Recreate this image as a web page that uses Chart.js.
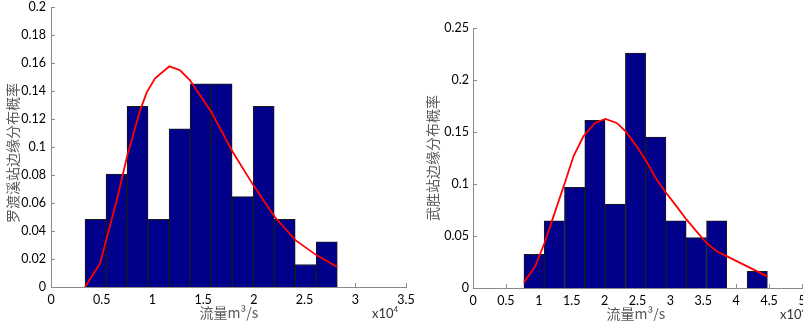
<!DOCTYPE html>
<html lang="zh">
<head>
<meta charset="UTF-8">
<title>边缘分布概率</title>
<script src="https://cdn.jsdelivr.net/npm/chart.js"></script>
<style>
    html, body { margin: 0; padding: 0; background: #fff; overflow: hidden; }
    body { width: 803px; height: 321px; position: relative; }
    canvas { position: absolute; top: 0; }
    #leftChart { left: 0; }
    #rightChart { left: 420px; }
    .ytitle, .xtitle, .scale-note {
        position: absolute;
        white-space: nowrap;
        color: #5a5a5a;
        font-family: "Noto Sans CJK SC", "Noto Sans", sans-serif;
        font-size: 14px;
        line-height: 1;
    }
    .ytitle { transform: translate(-50%, -50%) rotate(-90deg); }
    .xtitle { transform: translate(-50%, -50%); }
    .scale-note { font-family: Lato, sans-serif; font-size: 13px; color: #333; }
    .scale-note sup { font-size: 8px; vertical-align: 6px; }
</style>
</head>
<body>
<canvas id="leftChart" width="420" height="321"></canvas>
<canvas id="rightChart" width="383" height="321"></canvas>

<div class="ytitle" style="left:12px; top:153px;">罗渡溪站边缘分布概率</div>
<div class="xtitle" style="left:229px; top:312px;">流量m³/s</div>
<div class="scale-note" style="left:372px; top:305px;">x10<sup>4</sup></div>

<div class="ytitle" style="left:432px; top:158px;">武胜站边缘分布概率</div>
<div class="xtitle" style="left:636px; top:313px;">流量m³/s</div>
<div class="scale-note" style="left:780px; top:306px;">x10<sup>4</sup></div>

<script>
// flow values in units of 10^4 m3/s
// 罗渡溪站 histogram (bin centres) and frequencies
const luoBinCenters = [0.439, 0.646, 0.853, 1.061, 1.268, 1.475, 1.682, 1.890, 2.097, 2.304, 2.512, 2.719];
const luoFreq = [0.0484, 0.0806, 0.1290, 0.0484, 0.1129, 0.1452, 0.1452, 0.0645, 0.1290, 0.0484, 0.0161, 0.0323];
// fitted marginal distribution curve
const luoCurveX = [0.335, 0.483, 0.648, 0.756, 0.878, 0.944, 1.026, 1.167, 1.272, 1.371, 1.469, 1.581, 1.792, 1.996, 2.206, 2.413, 2.620, 2.823];
const luoCurveY = [0.0, 0.0167, 0.062, 0.095, 0.126, 0.139, 0.149, 0.1576, 0.1548, 0.1476, 0.137, 0.125, 0.0964, 0.0726, 0.050, 0.0333, 0.0226, 0.0143];

// 武胜站
const wsBinCenters = [0.928, 1.236, 1.544, 1.853, 2.161, 2.470, 2.778, 3.086, 3.395, 3.703, 4.012, 4.320];
const wsFreq = [0.0323, 0.0645, 0.0968, 0.1613, 0.0806, 0.2258, 0.1452, 0.0645, 0.0484, 0.0645, 0, 0.0161];
const wsCurveX = [0.774, 0.945, 1.087, 1.223, 1.395, 1.527, 1.678, 1.855, 2.012, 2.184, 2.320, 2.487, 2.634, 2.791, 2.937, 3.094, 3.246, 3.397, 3.549, 3.701, 3.862, 4.166, 4.474];
const wsCurveY = [0.0054, 0.0208, 0.0433, 0.0689, 0.101, 0.1266, 0.1458, 0.1587, 0.1625, 0.1587, 0.1506, 0.1362, 0.1218, 0.1042, 0.0913, 0.0785, 0.0657, 0.0545, 0.0433, 0.0353, 0.0304, 0.0208, 0.0112];

const luoXTicks = [0, 0.5, 1, 1.5, 2, 2.5, 3, 3.5];
const luoYTicks = [0, 0.02, 0.04, 0.06, 0.08, 0.1, 0.12, 0.14, 0.16, 0.18, 0.2];
const wsXTicks = [0, 0.5, 1, 1.5, 2, 2.5, 3, 3.5, 4, 4.5, 5];
const wsYTicks = [0, 0.05, 0.1, 0.15, 0.2, 0.25];

const AXIS_GRAY = '#8a8a8a';

// MATLAB style ticks pointing into the plot, drawn below the bars
const innerTicks = {
    id: 'innerTicks',
    beforeDatasetsDraw(chart) {
        const { ctx, chartArea, scales } = chart;
        ctx.save();
        ctx.strokeStyle = AXIS_GRAY;
        ctx.lineWidth = 1;
        ctx.beginPath();
        scales.x.ticks.forEach(t => {
            const px = Math.round(scales.x.getPixelForValue(t.value)) + 0.5;
            ctx.moveTo(px, chartArea.bottom);
            ctx.lineTo(px, chartArea.bottom - 4);
        });
        scales.y.ticks.forEach(t => {
            const py = Math.round(scales.y.getPixelForValue(t.value)) + 0.5;
            ctx.moveTo(chartArea.left, py);
            ctx.lineTo(chartArea.left + 4, py);
        });
        ctx.stroke();
        ctx.restore();
    }
};

function fmt(v) { return String(+v.toFixed(4)); }

function makeChart(id, o) {
    const bars = o.centers.map((c, i) => ({ x: c, y: o.freq[i] > 0 ? o.freq[i] : null }));
    const curve = o.curveX.map((x, i) => ({ x: x, y: o.curveY[i] }));
    return new Chart(document.getElementById(id), {
        type: 'bar',
        data: {
            datasets: [{
                type: 'line',
                data: curve,
                borderColor: '#ff0000',
                borderWidth: 1.8,
                pointRadius: 0,
                tension: 0,
                fill: false,
                order: 0
            }, {
                type: 'bar',
                data: bars,
                backgroundColor: '#00008b',
                borderColor: '#1a1a1a',
                borderWidth: 1,
                barPercentage: 1,
                categoryPercentage: 1,
                order: 1
            }]
        },
        options: {
            responsive: false,
            animation: false,
            devicePixelRatio: 1,
            layout: { padding: o.padding },
            plugins: { legend: { display: false }, tooltip: { enabled: false } },
            scales: {
                x: {
                    type: 'linear',
                    min: o.xTicks[0],
                    max: o.xTicks[o.xTicks.length - 1],
                    offset: false,
                    afterBuildTicks: s => { s.ticks = o.xTicks.map(v => ({ value: v })); },
                    afterFit: s => { s.height = o.xHeight; s.paddingLeft = 0; s.paddingRight = 0; },
                    grid: { display: false, drawTicks: false, offset: false },
                    border: { display: true, color: AXIS_GRAY, width: 1 },
                    ticks: {
                        autoSkip: false,
                        maxRotation: 0,
                        padding: 5,
                        color: '#000',
                        font: { family: 'Lato', size: 12.5 },
                        callback: v => fmt(v)
                    }
                },
                y: {
                    min: o.yTicks[0],
                    max: o.yTicks[o.yTicks.length - 1],
                    afterBuildTicks: s => { s.ticks = o.yTicks.map(v => ({ value: v })); },
                    afterFit: s => { s.width = o.yWidth; s.paddingTop = 0; s.paddingBottom = 0; },
                    grid: { display: false, drawTicks: false },
                    border: { display: true, color: AXIS_GRAY, width: 1 },
                    ticks: {
                        autoSkip: false,
                        padding: o.yPad,
                        color: '#000',
                        font: { family: 'Lato', size: 12.5 },
                        callback: v => fmt(v)
                    }
                }
            }
        },
        plugins: [innerTicks]
    });
}

makeChart('leftChart', {
    centers: luoBinCenters, freq: luoFreq, curveX: luoCurveX, curveY: luoCurveY,
    xTicks: luoXTicks, yTicks: luoYTicks,
    padding: { left: 0, right: 14, top: 7, bottom: 0 },
    yWidth: 51, xHeight: 34, yPad: 5
});

makeChart('rightChart', {
    centers: wsBinCenters, freq: wsFreq, curveX: wsCurveX, curveY: wsCurveY,
    xTicks: wsXTicks, yTicks: wsYTicks,
    padding: { left: 0, right: 1, top: 28, bottom: 0 },
    yWidth: 53, xHeight: 33, yPad: 4
});
</script>
</body>
</html>
